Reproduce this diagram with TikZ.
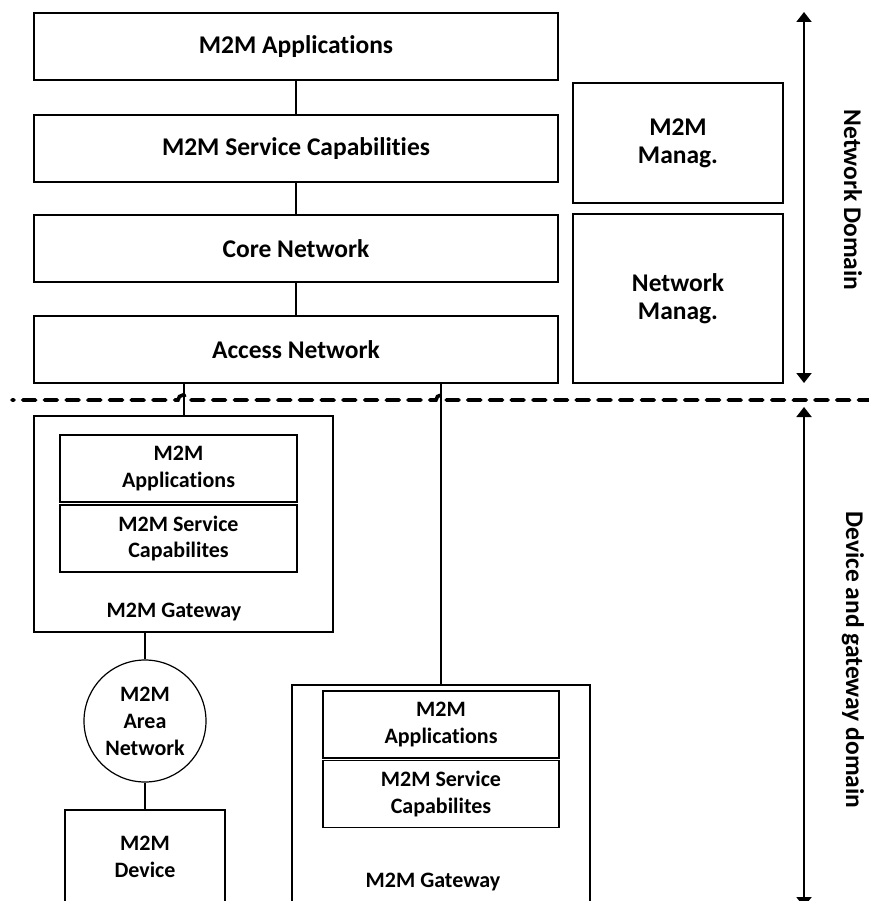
\documentclass[tikz,border=0pt]{standalone}
\usepackage{fontspec}
\setmainfont{Carlito}[Ligatures={NoCommon,NoRare,NoContextual}]
\usetikzlibrary{arrows.meta}
\tikzset{
  bigbox/.style={draw, line width=1.2pt, inner sep=0pt, align=center,
    font=\fontsize{25.5}{28}\selectfont\bfseries},
  smallbox/.style={draw, line width=1.2pt, inner sep=0pt, align=center,
    font=\fontsize{22}{26.5}\selectfont\bfseries},
  plainbox/.style={draw, line width=1.2pt, inner sep=0pt},
  lbl/.style={inner sep=0pt, align=center, font=\fontsize{22}{26.5}\selectfont\bfseries},
  domlbl/.style={inner sep=0pt, font=\fontsize{25.5}{28}\selectfont\bfseries},
  conn/.style={line width=2pt},
  dom/.style={line width=2pt, {Triangle[width=15pt,length=10pt]}-{Triangle[width=15pt,length=10pt]}},
  dashline/.style={line width=3.6pt, line cap=round, dash pattern=on 13pt off 8.7pt, dash phase=11pt}
}
\begin{document}
\begin{tikzpicture}[x=1pt,y=-1pt]
\fill[white] (0,0) rectangle (868,901);
\useasboundingbox (0,0) rectangle (868,901);
% network domain
\node[bigbox, minimum width=524pt, minimum height=67pt] (app) at (296,46.5) {M2M Applications};
\node[bigbox, minimum width=524pt, minimum height=67pt] (svc) at (296,148.5) {M2M Service Capabilities};
\node[bigbox, minimum width=524pt, minimum height=67pt] (core) at (296,248.5) {Core Network};
\node[bigbox, minimum width=524pt, minimum height=67pt] (acc) at (296,349.5) {Access Network};
\node[bigbox, minimum width=210pt, minimum height=120pt] (mm) at (678,143) {M2M\\Manag.};
\node[bigbox, minimum width=210pt, minimum height=169pt] (nm) at (678,298.5) {Network\\Manag.};
\draw[conn] (app) -- (svc);
\draw[conn] (svc) -- (core);
\draw[conn] (core) -- (acc);
% left gateway
\node[plainbox, minimum width=299pt, minimum height=216pt] (gw1) at (183.5,524) {};
\node[smallbox, minimum width=237pt, minimum height=67pt] (gw1app) at (178.5,468.5) {M2M\\Applications};
\node[smallbox, minimum width=237pt, minimum height=67pt] (gw1svc) at (178.5,538.5) {M2M Service\\Capabilites};
\node[lbl] (gw1lbl) at (174,612) {M2M Gateway};
% area network and device
\node[circle, draw, line width=1.2pt, minimum size=122pt, inner sep=0pt, align=center,
  font=\fontsize{22}{27}\selectfont\bfseries] (an) at (145,721) {M2M\\Area\\Network};
\node[plainbox, minimum width=160pt, minimum height=110pt] (dev) at (145,865) {};
\node[lbl] (devlbl) at (145,857) {M2M\\Device};
\draw[conn] (gw1.south -| an.north) -- (an.north);
\draw[conn] (an.south) -- (dev.north);
% right gateway
\node[plainbox, minimum width=298pt, minimum height=230pt] (gw2) at (441,800) {};
\node[smallbox, minimum width=236pt, minimum height=67pt] (gw2app) at (441,724.5) {M2M\\Applications};
\node[smallbox, minimum width=236pt, minimum height=67pt] (gw2svc) at (441,794) {M2M Service\\Capabilites};
\node[lbl] (gw2lbl) at (433,882) {M2M Gateway};
% connectors to access network
\draw[conn] (gw1.north |- acc.south) -- (gw1.north);
\draw[conn] (gw2.north |- acc.south) -- (gw2.north);
% domain separator
\draw[dashline] (12,400) -- (178,400) arc[start angle=180, end angle=0, radius=5pt]
  -- (436,400) arc[start angle=180, end angle=0, radius=5pt] -- (875,400);
% domain arrows
\coordinate (nt) at (804,12);
\coordinate (nb) at (804,383);
\coordinate (dt) at (804,407);
\coordinate (db) at (804,907);
\draw[dom] (nb) -- (nt);
\draw[dom] (dt) -- (db);
\node[domlbl, rotate=-90] (ndl) at (853,200) {Network Domain};
\node[domlbl, rotate=-90] (dgl) at (853,660) {Device and gateway domain};
\end{tikzpicture}
\end{document}
